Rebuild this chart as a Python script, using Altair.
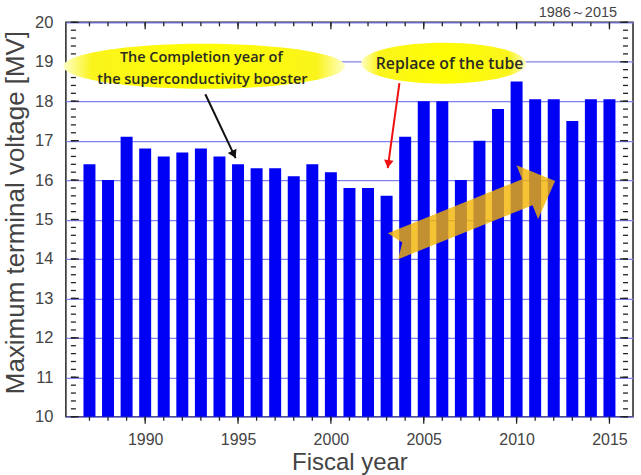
import altair as alt
import pandas as pd

# ---- data ----
years = list(range(1987, 2016))
voltages = [16.4, 16.0, 17.1, 16.8, 16.6, 16.7, 16.8, 16.6, 16.4, 16.3,
            16.3, 16.1, 16.4, 16.2, 15.8, 15.8, 15.6, 17.1, 18.0, 18.0,
            16.0, 17.0, 17.8, 18.5, 18.05, 18.05, 17.5, 18.05, 18.05]
x_major = [1990, 1995, 2000, 2005, 2010, 2015]
x_minor = list(range(1987, 2016))
y_major = list(range(10, 21))
y_minor = [round(10 + 0.2 * i, 1) for i in range(51)]

note1_lines = ["The Completion year of", "the superconductivity booster"]
note2_text = "Replace of the tube"
period_text = "1986\uff5e2015"

FONT = "Liberation Sans"
NOTE_FONT = "Open Sans"

xs = alt.Scale(domain=[1986, 2016], nice=False, zero=False)
ys = alt.Scale(domain=[10, 20], nice=False, zero=False)

AX = alt.Axis(values=x_major, format="d", ticks=False, domain=False, grid=False,
              labelFontSize=16, labelColor="#444", labelFont=FONT, labelPadding=15,
              title="Fiscal year", titleFontSize=24, titleFont=FONT,
              titleFontWeight="normal", titleColor="#444", titlePadding=3)
AY = alt.Axis(values=y_major, format="d", ticks=False, domain=False, grid=True,
              gridColor="#8080EE", gridWidth=1.3,
              labelFontSize=16.5, labelColor="#444", labelFont=FONT, labelPadding=13,
              title="Maximum terminal voltage [MV]", titleFontSize=26, titleFont=FONT,
              titleFontWeight="normal", titleColor="#444", titlePadding=6, titleY=190)

def X(f):
    return alt.X(f, scale=xs, axis=AX)

def Y(f):
    return alt.Y(f, scale=ys, axis=AY)

df = pd.DataFrame({"year": years, "v": voltages})

bars = alt.Chart(df).mark_bar(size=12, color="#0000F5").encode(
    x=X("year:Q"), y=Y("v:Q"), y2=alt.datum(10))

# ---- frame ticks ----
tick_color = "#222"
dfx_minor = pd.DataFrame({"t": x_minor})
dfx_major = pd.DataFrame({"t": x_major})
dfy_minor = pd.DataFrame({"t": y_minor})
dfy_major = pd.DataFrame({"t": y_major})

def xticks(d, at, off):
    return alt.Chart(d).mark_rule(color=tick_color, strokeWidth=1.3, y2Offset=off).encode(
        x=X("t:Q"), y=alt.YDatum(at, scale=ys, axis=AY), y2=alt.datum(at))

def yticks(d, at, off):
    return alt.Chart(d).mark_rule(color=tick_color, strokeWidth=1.3, x2Offset=off).encode(
        y=Y("t:Q"), x=alt.XDatum(at, scale=xs, axis=AX), x2=alt.datum(at))

ticks = [
    xticks(dfx_minor, 10, 4), xticks(dfx_major, 10, 7),
    xticks(dfx_minor, 20, 4), xticks(dfx_major, 20, 7),
    yticks(dfy_minor, 1986, 5), yticks(dfy_major, 1986, 8),
    yticks(dfy_minor, 2016, -5), yticks(dfy_major, 2016, -8),
]

def XY(xf="x:Q", yf="y:Q"):
    return dict(x=X(xf), y=Y(yf))

# ---- big trend arrow ----
arrow_shape = ("M -1 -0.16 L 0.657 -0.16 L 0.657 -0.331 L 1 0 L 0.657 0.331 "
               "L 0.657 0.16 L -1 0.16 L -0.886 0 Z")
big_arrow = alt.Chart(pd.DataFrame({"x": [2007.71], "y": [15.15]})).mark_point(
    shape=arrow_shape, size=30625, filled=True, color="#F2B400", opacity=0.8,
    angle=338.1, strokeWidth=0).encode(**XY())

# ---- callout ellipses ----
def ellipse_path(b):
    k = 0.5523
    return (f"M -1 0 C -1 {-k*b:.4f} {-k:.4f} {-b:.4f} 0 {-b:.4f} "
            f"C {k:.4f} {-b:.4f} 1 {-k*b:.4f} 1 0 "
            f"C 1 {k*b:.4f} {k:.4f} {b:.4f} 0 {b:.4f} "
            f"C {-k:.4f} {b:.4f} -1 {k*b:.4f} -1 0 Z")

yellow = alt.RadialGradient(gradient="radial", stops=[
    alt.GradientStop(offset=0, color="#FFFF00"),
    alt.GradientStop(offset=0.8, color="#FAF41C"),
    alt.GradientStop(offset=1, color="#FFFFC8"),
])

ell1 = alt.Chart(pd.DataFrame({"x": [1993.18], "y": [18.886]})).mark_point(
    shape=ellipse_path(0.16), size=282 ** 2, filled=True, fill=yellow, opacity=1,
    strokeWidth=0).encode(**XY())
ell2 = alt.Chart(pd.DataFrame({"x": [2006.07], "y": [18.962]})).mark_point(
    shape=ellipse_path(0.248), size=165 ** 2, filled=True, fill=yellow, opacity=1,
    strokeWidth=0).encode(**XY())

note1_df = pd.DataFrame({"x": [1993.02, 1993.08], "y": [19.089, 18.532], "t": note1_lines})
notes1 = alt.Chart(note1_df).mark_text(font=NOTE_FONT, fontSize=14.5, fontWeight=600,
                                       color="#2b2b22", align="center", baseline="middle").encode(
    text="t:N", **XY())
note2_df = pd.DataFrame({"x": [2006.39], "y": [18.937], "t": [note2_text]})
notes2 = alt.Chart(note2_df).mark_text(font=NOTE_FONT, fontSize=15.8, fontWeight=600,
                                       color="#2b2b22", align="center", baseline="middle").encode(
    text="t:N", **XY())

# ---- pointer arrows ----
ptr_df = pd.DataFrame({"x": [1993.24, 2003.69], "y": [18.177, 18.456],
                       "x2": [1994.87, 2003.06], "y2": [16.557, 16.304],
                       "ang": [64.2, 98.0]})
head_shape = "M 0 0 L -1 -0.6 L -1 0.6 Z"
ptr_lines = []
for i, col in enumerate(["#111111", "#EE1111"]):
    sub = ptr_df.iloc[[i]]
    ptr_lines.append(alt.Chart(sub).mark_rule(color=col, strokeWidth=2).encode(
        x2="x2:Q", y2="y2:Q", **XY()))
    ptr_lines.append(alt.Chart(sub).mark_point(
        shape=head_shape, size=256, filled=True, color=col, opacity=1,
        angle=float(sub["ang"].iloc[0]), strokeWidth=0).encode(**XY("x2:Q", "y2:Q")))

period = alt.Chart(pd.DataFrame({"x": [2016], "y": [20], "t": [period_text]})).mark_text(
    font=FONT, fontSize=14.5, color="#444", align="right", baseline="middle",
    dx=-11, dy=-9).encode(text="t:N", **XY())

chart = alt.layer(bars, *ticks, big_arrow, ell1, ell2, notes1, notes2, *ptr_lines, period).properties(
    width=568, height=395,
    padding={"left": 2, "top": 5, "right": 8, "bottom": 0},
    background="white",
).configure_view(stroke="#222", strokeWidth=1.5)

chart.save("out.html", embed_options={"renderer": "svg", "actions": False})
